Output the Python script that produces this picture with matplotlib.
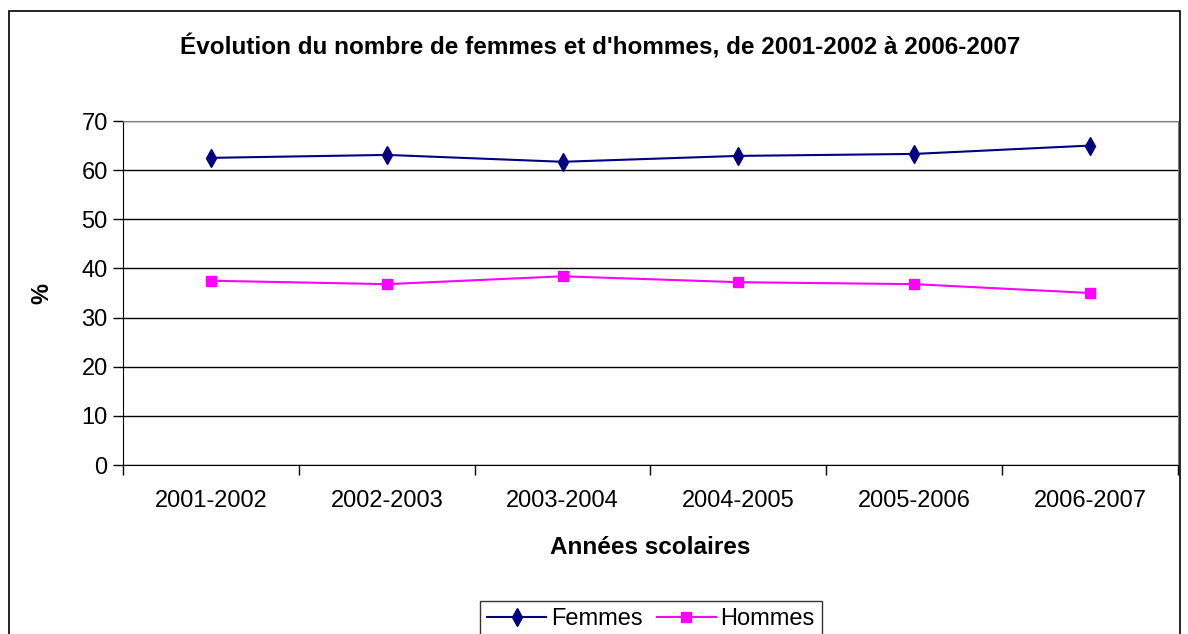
import matplotlib
matplotlib.use("Agg")
import matplotlib.pyplot as plt
from matplotlib.patches import Rectangle

plt.rcParams['font.family'] = ['Liberation Sans', 'DejaVu Sans']

# Data
annees = ['2001-2002', '2002-2003', '2003-2004', '2004-2005', '2005-2006', '2006-2007']
femmes = [62.5, 63.1, 61.7, 62.9, 63.3, 65.0]
hommes = [37.5, 36.8, 38.4, 37.2, 36.8, 35.0]

fig = plt.figure(figsize=(11.88, 6.34), dpi=100)
ax = fig.add_axes([123 / 1188, 1 - 465 / 634, 1055 / 1188, 344 / 634])

x = list(range(len(annees)))
ax.plot(x, femmes, color='#000080', marker='d', markersize=9, linewidth=1.5, label='Femmes')
ax.plot(x, hommes, color='#FF00FF', marker='s', markersize=7, linewidth=1.5, label='Hommes')

ax.set_xlim(-0.5, len(annees) - 0.5)
ax.set_ylim(0, 70)
ax.set_yticks(range(0, 71, 10))
ax.yaxis.grid(True, color='black', linewidth=1)
ax.set_axisbelow(True)

# category labels centered, ticks between categories
ax.set_xticks(x)
ax.set_xticklabels(annees)
ax.set_xticks([i - 0.5 for i in range(len(annees) + 1)], minor=True)
ax.tick_params(axis='x', which='major', length=0, pad=18, labelsize=17)
ax.tick_params(axis='x', which='minor', length=7, width=1, color='black')
ax.tick_params(axis='y', length=7, width=1, labelsize=17, pad=4)

for s in ['top', 'right']:
    ax.spines[s].set_color('#808080')
for s in ['left', 'bottom']:
    ax.spines[s].set_color('black')

ax.set_xlabel('Années scolaires', fontsize=17.5, fontweight='bold', labelpad=17)
ax.set_ylabel('%', fontsize=17, fontweight='bold', labelpad=20)

fig.text(0.505, 1 - 47 / 634, "Évolution du nombre de femmes et d'hommes, de 2001-2002 à 2006-2007",
         ha='center', va='center', fontsize=17.5, fontweight='bold')

leg = ax.legend(loc='upper center', bbox_to_anchor=(651 / 1188, 1 - 589 / 634),
                bbox_transform=fig.transFigure, ncol=2, fontsize=17, frameon=True,
                fancybox=False, edgecolor='black', handlelength=2.5, columnspacing=0.6,
                handletextpad=0.2, borderpad=0.3)
leg.get_frame().set_linewidth(1)

# outer chart border
fig.add_artist(Rectangle((9 / 1188, -0.05), 1171 / 1188, 1 - 11 / 634 + 0.05,
                         transform=fig.transFigure, fill=False, edgecolor='black', linewidth=1.2))

fig.savefig('out.png', dpi=100)
